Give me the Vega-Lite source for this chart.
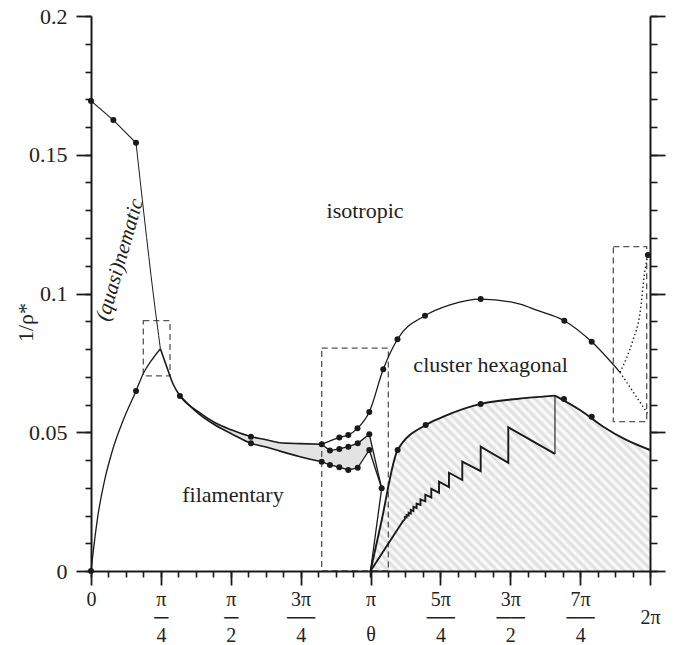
{
  "$schema": "https://vega.github.io/schema/vega-lite/v6.json",
  "width": 559,
  "height": 555,
  "autosize": "none",
  "padding": {"left": 91, "top": 16, "right": 29, "bottom": 74},
  "config": {
    "view": {"stroke": null},
    "font": "Liberation Serif, Times New Roman, serif",
    "axis": {"domainColor": "#1a1a1a", "tickColor": "#1a1a1a", "labelColor": "#222222", "titleColor": "#222222", "labelFont": "Liberation Serif, Times New Roman, serif", "titleFont": "Liberation Serif, Times New Roman, serif", "grid": false}
  },
  "datasets": {
    "curves": [
      {"s": "nemDrop", "x": 0.506, "y": 0.1543}, {"s": "nemDrop", "x": 0.6, "y": 0.1272}, {"s": "nemDrop", "x": 0.7, "y": 0.0998}, {"s": "nemDrop", "x": 0.78, "y": 0.0801},
      {"s": "rise", "x": 0, "y": 0}, {"s": "rise", "x": 0.034, "y": 0.0094}, {"s": "rise", "x": 0.079, "y": 0.0202}, {"s": "rise", "x": 0.146, "y": 0.0317}, {"s": "rise", "x": 0.236, "y": 0.0429}, {"s": "rise", "x": 0.363, "y": 0.0544}, {"s": "rise", "x": 0.506, "y": 0.0649}, {"s": "rise", "x": 0.588, "y": 0.0712}, {"s": "rise", "x": 0.682, "y": 0.076}, {"s": "rise", "x": 0.78, "y": 0.0801},
      {"s": "filaUpper", "x": 0.78, "y": 0.0801}, {"s": "filaUpper", "x": 0.851, "y": 0.0736}, {"s": "filaUpper", "x": 0.925, "y": 0.0672}, {"s": "filaUpper", "x": 1.0, "y": 0.0631}, {"s": "filaUpper", "x": 1.205, "y": 0.0574}, {"s": "filaUpper", "x": 1.394, "y": 0.0534}, {"s": "filaUpper", "x": 1.583, "y": 0.0508}, {"s": "filaUpper", "x": 1.798, "y": 0.0484}, {"s": "filaUpper", "x": 1.956, "y": 0.0474}, {"s": "filaUpper", "x": 2.124, "y": 0.0462}, {"s": "filaUpper", "x": 2.35, "y": 0.0459}, {"s": "filaUpper", "x": 2.593, "y": 0.0457},
      {"s": "filaLower", "x": 1.0, "y": 0.0631}, {"s": "filaLower", "x": 1.205, "y": 0.0568}, {"s": "filaLower", "x": 1.394, "y": 0.0526}, {"s": "filaLower", "x": 1.583, "y": 0.0494}, {"s": "filaLower", "x": 1.798, "y": 0.046}, {"s": "filaLower", "x": 1.956, "y": 0.0448}, {"s": "filaLower", "x": 2.124, "y": 0.0432}, {"s": "filaLower", "x": 2.35, "y": 0.0412}, {"s": "filaLower", "x": 2.593, "y": 0.0394},
      {"s": "dome", "x": 2.593, "y": 0.0457}, {"s": "dome", "x": 2.791, "y": 0.0481}, {"s": "dome", "x": 2.892, "y": 0.049}, {"s": "dome", "x": 2.995, "y": 0.0514}, {"s": "dome", "x": 3.128, "y": 0.0573}, {"s": "dome", "x": 3.285, "y": 0.0727}, {"s": "dome", "x": 3.445, "y": 0.0835}, {"s": "dome", "x": 3.754, "y": 0.092}, {"s": "dome", "x": 4.035, "y": 0.0959}, {"s": "dome", "x": 4.38, "y": 0.098}, {"s": "dome", "x": 4.822, "y": 0.0962}, {"s": "dome", "x": 5.009, "y": 0.094}, {"s": "dome", "x": 5.32, "y": 0.0902}, {"s": "dome", "x": 5.628, "y": 0.0826}, {"s": "dome", "x": 5.946, "y": 0.0716},
      {"s": "hexTop", "x": 3.1416, "y": 0}, {"s": "hexTop", "x": 3.26, "y": 0.0172}, {"s": "hexTop", "x": 3.447, "y": 0.0436}, {"s": "hexTop", "x": 3.762, "y": 0.0526}, {"s": "hexTop", "x": 3.96, "y": 0.0556}, {"s": "hexTop", "x": 4.38, "y": 0.0602}, {"s": "hexTop", "x": 4.785, "y": 0.062}, {"s": "hexTop", "x": 5.215, "y": 0.0632},
      {"s": "hexRight", "x": 5.215, "y": 0.0632}, {"s": "hexRight", "x": 5.496, "y": 0.058}, {"s": "hexRight", "x": 5.758, "y": 0.052}, {"s": "hexRight", "x": 6.0, "y": 0.0475}, {"s": "hexRight", "x": 6.2832, "y": 0.0436},
      {"s": "dotCurve", "x": 5.946, "y": 0.0716}, {"s": "dotCurve", "x": 6.024, "y": 0.0771}, {"s": "dotCurve", "x": 6.092, "y": 0.0832}, {"s": "dotCurve", "x": 6.171, "y": 0.093}, {"s": "dotCurve", "x": 6.227, "y": 0.1085}, {"s": "dotCurve", "x": 6.26, "y": 0.1139}
    ],
    "polylines": [
      {"s": "nemTop", "i": 0, "x": 0, "y": 0.1694}, {"s": "nemTop", "i": 1, "x": 0.251, "y": 0.1625}, {"s": "nemTop", "i": 2, "x": 0.506, "y": 0.1543},
      {"s": "chainUp", "i": 0, "x": 2.593, "y": 0.0457}, {"s": "chainUp", "i": 1, "x": 2.686, "y": 0.0434}, {"s": "chainUp", "i": 2, "x": 2.791, "y": 0.044}, {"s": "chainUp", "i": 3, "x": 2.892, "y": 0.0448}, {"s": "chainUp", "i": 4, "x": 2.998, "y": 0.046}, {"s": "chainUp", "i": 5, "x": 3.128, "y": 0.0493}, {"s": "chainUp", "i": 6, "x": 3.267, "y": 0.0298},
      {"s": "chainLo", "i": 0, "x": 2.593, "y": 0.0394}, {"s": "chainLo", "i": 1, "x": 2.686, "y": 0.0382}, {"s": "chainLo", "i": 2, "x": 2.791, "y": 0.0374}, {"s": "chainLo", "i": 3, "x": 2.892, "y": 0.0364}, {"s": "chainLo", "i": 4, "x": 2.998, "y": 0.0372}, {"s": "chainLo", "i": 5, "x": 3.128, "y": 0.0436}, {"s": "chainLo", "i": 6, "x": 3.267, "y": 0.0298},
      {"s": "vTail", "i": 0, "x": 3.267, "y": 0.0298}, {"s": "vTail", "i": 1, "x": 3.1416, "y": 0},
      {"s": "dotLine", "i": 0, "x": 5.946, "y": 0.0716}, {"s": "dotLine", "i": 1, "x": 6.26, "y": 0.0566},
      {"s": "drop", "i": 0, "x": 5.215, "y": 0.0632}, {"s": "drop", "i": 1, "x": 5.215, "y": 0.0422},
      {"s": "saw", "i": 0, "x": 5.2152, "y": 0.0422}, {"s": "saw", "i": 1, "x": 4.6904, "y": 0.0518}, {"s": "saw", "i": 2, "x": 4.6904, "y": 0.039}, {"s": "saw", "i": 3, "x": 4.3801, "y": 0.0448}, {"s": "saw", "i": 4, "x": 4.3801, "y": 0.036}, {"s": "saw", "i": 5, "x": 4.1733, "y": 0.0394}, {"s": "saw", "i": 6, "x": 4.1733, "y": 0.0328}, {"s": "saw", "i": 7, "x": 4.0238, "y": 0.0354}, {"s": "saw", "i": 8, "x": 4.0238, "y": 0.0302}, {"s": "saw", "i": 9, "x": 3.9114, "y": 0.0322}, {"s": "saw", "i": 10, "x": 3.9114, "y": 0.0282}, {"s": "saw", "i": 11, "x": 3.8249, "y": 0.0296}, {"s": "saw", "i": 12, "x": 3.8249, "y": 0.0265}, {"s": "saw", "i": 13, "x": 3.7575, "y": 0.0275}, {"s": "saw", "i": 14, "x": 3.7575, "y": 0.0251}, {"s": "saw", "i": 15, "x": 3.7035, "y": 0.0258}, {"s": "saw", "i": 16, "x": 3.7035, "y": 0.0238}, {"s": "saw", "i": 17, "x": 3.6597, "y": 0.0243}, {"s": "saw", "i": 18, "x": 3.6597, "y": 0.0227}, {"s": "saw", "i": 19, "x": 3.6237, "y": 0.0231}, {"s": "saw", "i": 20, "x": 3.6237, "y": 0.0216}, {"s": "saw", "i": 21, "x": 3.5945, "y": 0.022}, {"s": "saw", "i": 22, "x": 3.5945, "y": 0.0207}, {"s": "saw", "i": 23, "x": 3.5697, "y": 0.021}, {"s": "saw", "i": 24, "x": 3.5697, "y": 0.02}, {"s": "saw", "i": 25, "x": 3.5473, "y": 0.0202}, {"s": "saw", "i": 26, "x": 3.5473, "y": 0.0193}, {"s": "saw", "i": 27, "x": 3.527, "y": 0.0194}, {"s": "saw", "i": 28, "x": 3.527, "y": 0.0186}, {"s": "saw", "i": 29, "x": 3.5068, "y": 0.018}, {"s": "saw", "i": 30, "x": 3.1416, "y": 0}
    ],
    "dots": [
      {"x": 0, "y": 0.1694}, {"x": 0.251, "y": 0.1625}, {"x": 0.506, "y": 0.1543}, {"x": 0, "y": 0}, {"x": 0.506, "y": 0.0649},
      {"x": 1.0, "y": 0.0631}, {"x": 1.798, "y": 0.0484}, {"x": 1.798, "y": 0.046}, {"x": 2.593, "y": 0.0457}, {"x": 2.593, "y": 0.0394},
      {"x": 2.686, "y": 0.0434}, {"x": 2.791, "y": 0.044}, {"x": 2.892, "y": 0.0448}, {"x": 2.998, "y": 0.046}, {"x": 3.128, "y": 0.0493},
      {"x": 2.686, "y": 0.0382}, {"x": 2.791, "y": 0.0374}, {"x": 2.892, "y": 0.0364}, {"x": 2.998, "y": 0.0372}, {"x": 3.128, "y": 0.0436}, {"x": 3.267, "y": 0.0298},
      {"x": 2.791, "y": 0.0481}, {"x": 2.892, "y": 0.049}, {"x": 2.995, "y": 0.0514}, {"x": 3.128, "y": 0.0573}, {"x": 3.285, "y": 0.0727}, {"x": 3.445, "y": 0.0835}, {"x": 3.754, "y": 0.092}, {"x": 4.38, "y": 0.098}, {"x": 5.32, "y": 0.0902}, {"x": 5.628, "y": 0.0826}, {"x": 6.26, "y": 0.1139},
      {"x": 3.447, "y": 0.0436}, {"x": 3.762, "y": 0.0526}, {"x": 4.38, "y": 0.0602}, {"x": 5.316, "y": 0.062}, {"x": 5.628, "y": 0.0556}
    ],
    "boxes": [
      {"x": 0.588, "x2": 0.888, "y": 0.0703, "y2": 0.0902},
      {"x": 2.593, "x2": 3.342, "y": 0, "y2": 0.0803},
      {"x": 5.871, "x2": 6.246, "y": 0.0538, "y2": 0.1169}
    ],
    "notes": [
      {"x": 3.08, "y": 0.1272, "text": "isotropic"},
      {"x": 4.492, "y": 0.0717, "text": "cluster hexagonal"},
      {"x": 1.596, "y": 0.0249, "text": "filamentary"}
    ],
    "slanted": [
      {"x": 0.326, "y": 0.1121, "text": "(quasi)nematic"}
    ]
  },
  "encoding": {
    "x": {"field": "x", "type": "quantitative", "scale": {"domain": [0, 6.283185307179586], "nice": false, "zero": false}, "axis": null},
    "y": {"field": "y", "type": "quantitative", "scale": {"domain": [0, 0.2], "nice": false, "zero": false}, "axis": null}
  },
  "layer": [
    {
      "data": {"name": "curves"},
      "transform": [{"filter": "datum.s == 'hexTop' || (datum.s == 'hexRight' && datum.x > 5.3)"}],
      "mark": {
        "type": "area",
        "interpolate": "monotone",
        "color": {
          "gradient": "linear", "x1": 1, "y1": 0, "x2": -0.1686, "y2": 0.7303,
          "stops": [
            {"offset": 0, "color": "#dcdcdc"}, {"offset": 0.01, "color": "#ffffff"}, {"offset": 0.02, "color": "#dcdcdc"}, {"offset": 0.03, "color": "#ffffff"}, {"offset": 0.04, "color": "#dcdcdc"}, {"offset": 0.05, "color": "#ffffff"}, {"offset": 0.06, "color": "#dcdcdc"}, {"offset": 0.07, "color": "#ffffff"}, {"offset": 0.08, "color": "#dcdcdc"}, {"offset": 0.09, "color": "#ffffff"},
            {"offset": 0.1, "color": "#dcdcdc"}, {"offset": 0.11, "color": "#ffffff"}, {"offset": 0.12, "color": "#dcdcdc"}, {"offset": 0.13, "color": "#ffffff"}, {"offset": 0.14, "color": "#dcdcdc"}, {"offset": 0.15, "color": "#ffffff"}, {"offset": 0.16, "color": "#dcdcdc"}, {"offset": 0.17, "color": "#ffffff"}, {"offset": 0.18, "color": "#dcdcdc"}, {"offset": 0.19, "color": "#ffffff"},
            {"offset": 0.2, "color": "#dcdcdc"}, {"offset": 0.21, "color": "#ffffff"}, {"offset": 0.22, "color": "#dcdcdc"}, {"offset": 0.23, "color": "#ffffff"}, {"offset": 0.24, "color": "#dcdcdc"}, {"offset": 0.25, "color": "#ffffff"}, {"offset": 0.26, "color": "#dcdcdc"}, {"offset": 0.27, "color": "#ffffff"}, {"offset": 0.28, "color": "#dcdcdc"}, {"offset": 0.29, "color": "#ffffff"},
            {"offset": 0.3, "color": "#dcdcdc"}, {"offset": 0.31, "color": "#ffffff"}, {"offset": 0.32, "color": "#dcdcdc"}, {"offset": 0.33, "color": "#ffffff"}, {"offset": 0.34, "color": "#dcdcdc"}, {"offset": 0.35, "color": "#ffffff"}, {"offset": 0.36, "color": "#dcdcdc"}, {"offset": 0.37, "color": "#ffffff"}, {"offset": 0.38, "color": "#dcdcdc"}, {"offset": 0.39, "color": "#ffffff"},
            {"offset": 0.4, "color": "#dcdcdc"}, {"offset": 0.41, "color": "#ffffff"}, {"offset": 0.42, "color": "#dcdcdc"}, {"offset": 0.43, "color": "#ffffff"}, {"offset": 0.44, "color": "#dcdcdc"}, {"offset": 0.45, "color": "#ffffff"}, {"offset": 0.46, "color": "#dcdcdc"}, {"offset": 0.47, "color": "#ffffff"}, {"offset": 0.48, "color": "#dcdcdc"}, {"offset": 0.49, "color": "#ffffff"},
            {"offset": 0.5, "color": "#dcdcdc"}, {"offset": 0.51, "color": "#ffffff"}, {"offset": 0.52, "color": "#dcdcdc"}, {"offset": 0.53, "color": "#ffffff"}, {"offset": 0.54, "color": "#dcdcdc"}, {"offset": 0.55, "color": "#ffffff"}, {"offset": 0.56, "color": "#dcdcdc"}, {"offset": 0.57, "color": "#ffffff"}, {"offset": 0.58, "color": "#dcdcdc"}, {"offset": 0.59, "color": "#ffffff"},
            {"offset": 0.6, "color": "#dcdcdc"}, {"offset": 0.61, "color": "#ffffff"}, {"offset": 0.62, "color": "#dcdcdc"}, {"offset": 0.63, "color": "#ffffff"}, {"offset": 0.64, "color": "#dcdcdc"}, {"offset": 0.65, "color": "#ffffff"}, {"offset": 0.66, "color": "#dcdcdc"}, {"offset": 0.67, "color": "#ffffff"}, {"offset": 0.68, "color": "#dcdcdc"}, {"offset": 0.69, "color": "#ffffff"},
            {"offset": 0.7, "color": "#dcdcdc"}, {"offset": 0.71, "color": "#ffffff"}, {"offset": 0.72, "color": "#dcdcdc"}, {"offset": 0.73, "color": "#ffffff"}, {"offset": 0.74, "color": "#dcdcdc"}, {"offset": 0.75, "color": "#ffffff"}, {"offset": 0.76, "color": "#dcdcdc"}, {"offset": 0.77, "color": "#ffffff"}, {"offset": 0.78, "color": "#dcdcdc"}, {"offset": 0.79, "color": "#ffffff"},
            {"offset": 0.8, "color": "#dcdcdc"}, {"offset": 0.81, "color": "#ffffff"}, {"offset": 0.82, "color": "#dcdcdc"}, {"offset": 0.83, "color": "#ffffff"}, {"offset": 0.84, "color": "#dcdcdc"}, {"offset": 0.85, "color": "#ffffff"}, {"offset": 0.86, "color": "#dcdcdc"}, {"offset": 0.87, "color": "#ffffff"}, {"offset": 0.88, "color": "#dcdcdc"}, {"offset": 0.89, "color": "#ffffff"},
            {"offset": 0.9, "color": "#dcdcdc"}, {"offset": 0.91, "color": "#ffffff"}, {"offset": 0.92, "color": "#dcdcdc"}, {"offset": 0.93, "color": "#ffffff"}, {"offset": 0.94, "color": "#dcdcdc"}, {"offset": 0.95, "color": "#ffffff"}, {"offset": 0.96, "color": "#dcdcdc"}, {"offset": 0.97, "color": "#ffffff"}, {"offset": 0.98, "color": "#dcdcdc"}, {"offset": 0.99, "color": "#ffffff"},
            {"offset": 1, "color": "#dcdcdc"}
          ]
        }
      },
      "encoding": {
        "x": {
          "field": "x", "type": "quantitative",
          "scale": {"domain": [0, 6.283185307179586], "nice": false, "zero": false},
          "axis": {
            "orient": "bottom", "zindex": 1,
            "values": [0, 0.7853981633974483, 1.5707963267948966, 2.356194490192345, 3.141592653589793, 3.9269908169872414, 4.71238898038469, 5.497787143782138, 6.283185307179586],
            "domainWidth": 2, "tickSize": 14, "tickWidth": 1.8,
            "labelFontSize": 20, "labelPadding": 4, "labelLineHeight": 18, "labelBaseline": "top",
            "labelFlush": false, "labelOverlap": false,
            "labelExpr": "[['0'],['π','─','4'],['π','─','2'],['3π','──','4'],['π'],['5π','──','4'],['3π','──','2'],['7π','──','4'],['','2π']][round(datum.value / (PI / 4))]",
            "title": "θ", "titleFontSize": 20, "titleFontWeight": "normal", "titleY": 63, "titleBaseline": "middle"
          }
        },
        "y": {
          "field": "y", "type": "quantitative",
          "scale": {"domain": [0, 0.2], "nice": false, "zero": false},
          "axis": {
            "orient": "left", "zindex": 1,
            "values": [0, 0.05, 0.1, 0.15, 0.2], "format": "~g",
            "domainWidth": 2, "tickSize": 15, "tickWidth": 1.8,
            "labelFontSize": 22, "labelPadding": 9, "labelFlush": false,
            "title": "1/ρ*", "titleFontSize": 22, "titleFontWeight": "normal", "titleAngle": -90,
            "titleX": -66, "titleY": 306, "titleAlign": "center", "titleBaseline": "middle"
          }
        },
        "y2": {"datum": 0}
      }
    },
    {
      "data": {"name": "curves"},
      "transform": [
        {"filter": {"field": "s", "oneOf": ["filaUpper", "filaLower"]}},
        {"filter": "datum.x >= 1"},
        {"pivot": "s", "value": "y", "groupby": ["x"]}
      ],
      "mark": {"type": "area", "interpolate": "monotone", "color": "#e3e3e3"},
      "encoding": {
        "x": {
          "field": "x", "type": "quantitative",
          "scale": {"domain": [0, 6.283185307179586], "nice": false, "zero": false},
          "axis": {
            "orient": "bottom", "zindex": 1, "domain": false, "labels": false, "title": null,
            "tickSize": 6, "tickWidth": 1.6,
            "values": [0, 0.19634954, 0.39269908, 0.58904862, 0.78539816, 0.9817477, 1.17809724, 1.37444679, 1.57079633, 1.76714587, 1.96349541, 2.15984495, 2.35619449, 2.55254403, 2.74889357, 2.94524311, 3.14159265, 3.33794219, 3.53429174, 3.73064128, 3.92699082, 4.12334036, 4.3196899, 4.51603944, 4.71238898, 4.90873852, 5.10508806, 5.3014376, 5.49778714, 5.69413668, 5.89048623, 6.08683577, 6.28318530]
          }
        },
        "y": {
          "field": "filaUpper", "type": "quantitative",
          "scale": {"domain": [0, 0.2], "nice": false, "zero": false},
          "axis": {
            "orient": "left", "zindex": 1, "domain": false, "labels": false, "title": null,
            "tickSize": 6, "tickWidth": 1.6,
            "values": [0, 0.01, 0.02, 0.03, 0.04, 0.05, 0.06, 0.07, 0.08, 0.09, 0.1, 0.11, 0.12, 0.13, 0.14, 0.15, 0.16, 0.17, 0.18, 0.19, 0.2]
          }
        },
        "y2": {"field": "filaLower"}
      }
    },
    {
      "data": {"name": "polylines"},
      "transform": [
        {"filter": {"field": "s", "oneOf": ["chainUp", "chainLo"]}},
        {"pivot": "s", "value": "y", "groupby": ["x"]}
      ],
      "mark": {"type": "area", "interpolate": "linear", "color": "#e3e3e3"},
      "encoding": {
        "y": {
          "field": "chainUp", "type": "quantitative",
          "scale": {"domain": [0, 0.2], "nice": false, "zero": false},
          "axis": {
            "orient": "right", "zindex": 1, "labels": false, "title": null,
            "domainWidth": 2, "tickSize": 15, "tickWidth": 1.8,
            "values": [0, 0.05, 0.1, 0.15, 0.2]
          }
        },
        "y2": {"field": "chainLo"}
      }
    },
    {
      "data": {"name": "boxes"},
      "mark": {"type": "rect", "fill": null, "stroke": "#555555", "strokeWidth": 1.3, "strokeDash": [6, 4]},
      "encoding": {
        "x2": {"field": "x2"},
        "y": {
          "field": "y", "type": "quantitative",
          "scale": {"domain": [0, 0.2], "nice": false, "zero": false},
          "axis": {
            "orient": "right", "zindex": 1, "domain": false, "labels": false, "title": null,
            "tickSize": 7, "tickWidth": 1.6,
            "values": [0, 0.01, 0.02, 0.03, 0.04, 0.05, 0.06, 0.07, 0.08, 0.09, 0.1, 0.11, 0.12, 0.13, 0.14, 0.15, 0.16, 0.17, 0.18, 0.19, 0.2]
          }
        },
        "y2": {"field": "y2"}
      }
    },
    {
      "data": {"name": "curves"},
      "transform": [{"filter": {"field": "s", "oneOf": ["rise", "dome"]}}],
      "mark": {"type": "line", "interpolate": "monotone", "color": "#1a1a1a", "strokeWidth": 1.3},
      "encoding": {"detail": {"field": "s"}}
    },
    {
      "data": {"name": "curves"},
      "transform": [{"filter": {"field": "s", "oneOf": ["filaUpper", "filaLower"]}}],
      "mark": {"type": "line", "interpolate": "monotone", "color": "#1a1a1a", "strokeWidth": 1.6},
      "encoding": {"detail": {"field": "s"}}
    },
    {
      "data": {"name": "curves"},
      "transform": [{"filter": {"field": "s", "oneOf": ["hexTop", "hexRight"]}}],
      "mark": {"type": "line", "interpolate": "monotone", "color": "#1a1a1a", "strokeWidth": 1.9},
      "encoding": {"detail": {"field": "s"}}
    },
    {
      "data": {"name": "curves"},
      "transform": [{"filter": {"field": "s", "oneOf": ["nemDrop"]}}],
      "mark": {"type": "line", "interpolate": "monotone", "color": "#1a1a1a", "strokeWidth": 1},
      "encoding": {"detail": {"field": "s"}}
    },
    {
      "data": {"name": "curves"},
      "transform": [{"filter": {"field": "s", "oneOf": ["dotCurve"]}}],
      "mark": {"type": "line", "interpolate": "monotone", "color": "#1a1a1a", "strokeWidth": 1.4, "strokeDash": [1.4, 2.6]},
      "encoding": {"detail": {"field": "s"}}
    },
    {
      "data": {"name": "polylines"},
      "transform": [{"filter": {"field": "s", "oneOf": ["chainUp", "chainLo", "vTail"]}}],
      "mark": {"type": "line", "color": "#1a1a1a", "strokeWidth": 1.3},
      "encoding": {"detail": {"field": "s"}, "order": {"field": "i", "type": "quantitative"}}
    },
    {
      "data": {"name": "polylines"},
      "transform": [{"filter": {"field": "s", "oneOf": ["saw"]}}],
      "mark": {"type": "line", "color": "#1a1a1a", "strokeWidth": 1.9, "strokeJoin": "miter"},
      "encoding": {"detail": {"field": "s"}, "order": {"field": "i", "type": "quantitative"}}
    },
    {
      "data": {"name": "polylines"},
      "transform": [{"filter": {"field": "s", "oneOf": ["nemTop", "drop"]}}],
      "mark": {"type": "line", "color": "#1a1a1a", "strokeWidth": 1.1},
      "encoding": {"detail": {"field": "s"}, "order": {"field": "i", "type": "quantitative"}}
    },
    {
      "data": {"name": "polylines"},
      "transform": [{"filter": {"field": "s", "oneOf": ["dotLine"]}}],
      "mark": {"type": "line", "color": "#1a1a1a", "strokeWidth": 1.4, "strokeDash": [1.4, 2.6]},
      "encoding": {"detail": {"field": "s"}, "order": {"field": "i", "type": "quantitative"}}
    },
    {
      "data": {"name": "dots"},
      "mark": {"type": "point", "filled": true, "color": "#1a1a1a", "size": 36, "opacity": 1}
    },
    {
      "data": {"name": "notes"},
      "mark": {"type": "text", "font": "Liberation Serif, Times New Roman, serif", "fontSize": 22, "color": "#222222", "align": "center", "baseline": "alphabetic"},
      "encoding": {"text": {"field": "text"}}
    },
    {
      "data": {"name": "slanted"},
      "mark": {"type": "text", "font": "Liberation Serif, Times New Roman, serif", "fontSize": 21, "fontStyle": "italic", "color": "#222222", "align": "center", "baseline": "middle", "angle": 286},
      "encoding": {"text": {"field": "text"}}
    }
  ],
  "resolve": {"axis": {"x": "independent", "y": "independent"}}
}
